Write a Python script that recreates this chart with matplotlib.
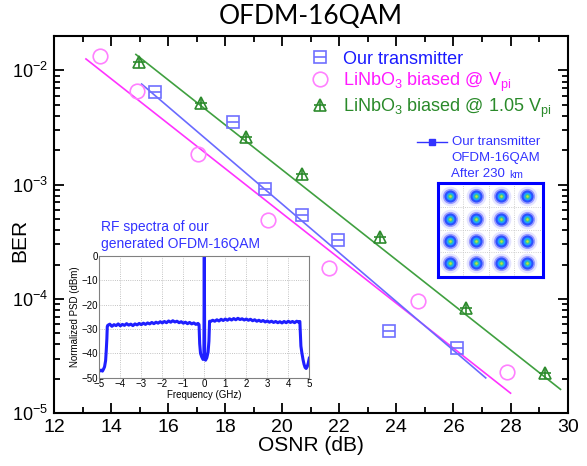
import numpy as np
import matplotlib
matplotlib.use("Agg")
import matplotlib.pyplot as plt
from matplotlib.lines import Line2D
from matplotlib.ticker import LogLocator, FixedLocator, NullFormatter

plt.rcParams['font.family'] = ['Liberation Sans', 'DejaVu Sans']
plt.rcParams['mathtext.fontset'] = 'custom'
plt.rcParams['mathtext.rm'] = 'Liberation Sans'
plt.rcParams['mathtext.it'] = 'Liberation Sans:italic'

# ---------------- data ----------------
title = "OFDM-16QAM"
labels = ["Our transmitter",
          r"LiNbO$_3$ biased @ V$_{\mathrm{pi}}$",
          r"LiNbO$_3$ biased @ 1.05 V$_{\mathrm{pi}}$"]

tx_osnr = [15.54, 18.27, 19.39, 20.68, 21.94, 23.73, 26.11]
tx_ber = [6.5e-3, 3.55e-3, 9.2e-4, 5.4e-4, 3.3e-4, 5.3e-5, 3.7e-5]
tx_fit_osnr = [15.07, 27.13]
tx_fit_ber = [7.6e-3, 2.04e-5]

vpi_osnr = [13.61, 14.90, 17.04, 19.49, 21.64, 24.76, 27.87]
vpi_ber = [1.35e-2, 6.6e-3, 1.85e-3, 4.9e-4, 1.86e-4, 9.7e-5, 2.3e-5]
vpi_fit_osnr = [13.12, 28.0]
vpi_fit_ber = [1.26e-2, 1.5e-5]

v105_osnr = [14.98, 17.15, 18.72, 20.68, 23.41, 26.45, 29.21]
v105_ber = [1.18e-2, 5.2e-3, 2.6e-3, 1.23e-3, 3.5e-4, 8.3e-5, 2.24e-5]
v105_fit_osnr = [14.87, 29.75]
v105_fit_ber = [1.38e-2, 1.62e-5]

x_ticks = [12, 14, 16, 18, 20, 22, 24, 26, 28, 30]
y_ticks = [1e-5, 1e-4, 1e-3, 1e-2]
y_tick_labels = [r"$10^{-5}$", r"$10^{-4}$", r"$10^{-3}$", r"$10^{-2}$"]

# RF spectrum (inset)
freq_ghz = [-5.0, -4.95, -4.9, -4.85, -4.8, -4.75, -4.7, -4.67, -4.64, -4.62,
            -4.6, -4.5, -4.4, -4.3, -4.2, -4.1, -4.0, -3.9, -3.8, -3.7, -3.6,
            -3.5, -3.4, -3.3, -3.2, -3.1, -3.0, -2.9, -2.8, -2.7, -2.6, -2.5,
            -2.4, -2.3, -2.2, -2.1, -2.0, -1.9, -1.8, -1.7, -1.6, -1.5, -1.4,
            -1.3, -1.2, -1.1, -1.0, -0.9, -0.8, -0.7, -0.6, -0.5, -0.4, -0.3,
            -0.25, -0.22, -0.18, -0.12, -0.06, -0.02, 0.0, 0.02, 0.06, 0.12,
            0.18, 0.22, 0.25, 0.3, 0.4, 0.5, 0.6, 0.7, 0.8, 0.9, 1.0, 1.1, 1.2,
            1.3, 1.4, 1.5, 1.6, 1.7, 1.8, 1.9, 2.0, 2.1, 2.2, 2.3, 2.4, 2.5,
            2.6, 2.7, 2.8, 2.9, 3.0, 3.1, 3.2, 3.3, 3.4, 3.5, 3.6, 3.7, 3.8,
            3.9, 4.0, 4.1, 4.2, 4.3, 4.4, 4.5, 4.55, 4.6, 4.65, 4.7, 4.75, 4.8,
            4.85, 4.9, 4.95, 5.0]
psd_dbm = [-46.8, -47.2, -46.9, -47.3, -46.5, -45.5, -43.0, -39.0, -34.0, -29.0,
           -28.5, -28.0, -28.9, -28.2, -28.6, -27.9, -28.7, -28.1, -28.5, -27.8, -28.4,
           -28.0, -28.6, -27.9, -28.3, -27.7, -28.2, -27.6, -28.1, -27.5, -27.9, -27.3,
           -27.8, -27.2, -27.6, -27.0, -27.5, -26.9, -27.4, -26.7, -27.2, -26.6, -27.1,
           -26.8, -27.4, -27.0, -27.6, -27.2, -27.8, -27.3, -27.9, -27.5, -28.1, -27.7,
           -28.2, -36.0, -40.0, -41.5, -42.5, -41.0, 0.0, -41.5, -42.8, -41.8,
           -39.5, -35.0, -26.8, -26.9, -26.4, -26.8, -26.2, -26.7, -26.0, -26.5, -25.9, -26.4, -25.8,
           -26.3, -25.7, -26.2, -25.6, -26.1, -25.8, -26.3, -25.9, -26.4, -26.0, -26.6, -26.2, -26.8,
           -26.4, -26.9, -26.5, -27.1, -26.7, -27.2, -26.8, -27.3, -26.9, -27.4, -27.0, -27.5, -26.9,
           -27.4, -26.8, -27.3, -26.9, -27.4, -26.8, -27.2, -26.9, -37.0, -40.0, -42.5, -44.5, -45.8,
           -46.2, -45.5, -44.0, -42.0]
inset_x_ticks = [-5, -4, -3, -2, -1, 0, 1, 2, 3, 4, 5]
inset_y_ticks = [0, -10, -20, -30, -40, -50]

# constellation (16QAM levels)
qam_levels = [-3, -1, 1, 3]

# ---------------- figure ----------------
fig = plt.figure(figsize=(5.87, 4.66), dpi=100)
ax = fig.add_axes([0.092, 0.1131, 0.875, 0.8096])

c_blue_m, c_blue_l = '#6f6fff', '#6a6aff'
c_pink_m, c_pink_l = '#ff80ff', '#ff33ff'
c_green_m, c_green_l = '#2e8b2e', '#40a040'

ax.plot(vpi_fit_osnr, vpi_fit_ber, color=c_pink_l, lw=1.2)
ax.plot(tx_fit_osnr, tx_fit_ber, color=c_blue_l, lw=1.2)
ax.plot(v105_fit_osnr, v105_fit_ber, color=c_green_l, lw=1.2)

ax.plot(tx_osnr, tx_ber, ls='none', marker='s', ms=9, mfc='none', mec=c_blue_m, mew=1.2)
ax.plot(tx_osnr, tx_ber, ls='none', marker='_', ms=9, mec=c_blue_m, mew=1.2)
ax.plot(vpi_osnr, vpi_ber, ls='none', marker='o', ms=10.5, mfc='none', mec=c_pink_m, mew=1.2)
ax.plot(v105_osnr, v105_ber, ls='none', marker='^', ms=8, mfc='none', mec=c_green_m, mew=1.2)
ax.plot(v105_osnr, v105_ber, ls='none', marker='+', ms=9, mec=c_green_m, mew=1.2)

ax.set_yscale('log')
ax.set_xlim(12, 30)
ax.set_ylim(1e-5, 2e-2)
ax.set_xticks(x_ticks)
ax.set_xticklabels([str(t) for t in x_ticks])
ax.xaxis.set_minor_locator(FixedLocator(np.arange(13, 30, 2)))
ax.set_yticks(y_ticks)
ax.set_yticklabels(y_tick_labels)
ax.yaxis.set_minor_locator(LogLocator(base=10, subs=np.arange(2, 10)))
ax.yaxis.set_minor_formatter(NullFormatter())
ax.tick_params(which='both', direction='in', top=True, right=True, width=1.3)
ax.tick_params(axis='x', labelsize=14, pad=4)
ax.tick_params(axis='y', labelsize=13, pad=4)
ax.tick_params(which='major', length=7)
ax.tick_params(which='minor', length=4)
for s in ax.spines.values():
    s.set_linewidth(1.5)
ax.set_xlabel("OSNR (dB)", fontsize=15, labelpad=0)
ax.set_ylabel("BER", fontsize=15, va='center')
ax.yaxis.set_label_coords(-0.066, 0.459)
fig.text(311 / 587, 1 - 17 / 466, title, fontsize=19, family=['Lato', 'DejaVu Sans'],
         ha='center', va='center')

# legend
h1 = (Line2D([], [], ls='none', marker='s', ms=9, mfc='none', mec=c_blue_m, mew=1.2),
      Line2D([], [], ls='none', marker='_', ms=9, mec=c_blue_m, mew=1.2))
h2 = Line2D([], [], ls='none', marker='o', ms=10.5, mfc='none', mec=c_pink_m, mew=1.2)
h3 = (Line2D([], [], ls='none', marker='^', ms=8, mfc='none', mec=c_green_m, mew=1.2),
      Line2D([], [], ls='none', marker='+', ms=9, mec=c_green_m, mew=1.2))
leg = ax.legend([h1, h2, h3], labels, loc='upper left', bbox_to_anchor=(0.482, 0.98),
                frameon=False, fontsize=13, handlelength=1.2, handletextpad=0.7,
                labelspacing=0.15, borderaxespad=0)
for t, c in zip(leg.get_texts(), ['#1a1aff', '#ff1aff', '#2a8a2a']):
    t.set_color(c)

# constellation annotation
fig.add_artist(Line2D([417 / 587, 447 / 587], [1 - 141.7 / 466, 1 - 141.7 / 466],
                      color='#3333ff', lw=1, transform=fig.transFigure))
fig.add_artist(Line2D([432 / 587], [1 - 141.7 / 466], color='#3333ff', marker='s', ms=5,
                      ls='none', transform=fig.transFigure))
fig.text(452 / 587, 1 - 141.7 / 466, "Our transmitter", color='#3333ff', fontsize=9.5,
         va='center', ha='left')
fig.text(496 / 587, 1 - 157.7 / 466, "OFDM-16QAM", color='#3333ff', fontsize=9.5,
         va='center', ha='center')
fig.text(451 / 587, 1 - 174 / 466, "After 230 ", color='#3333ff', fontsize=9.5,
         va='center', ha='left')
fig.text(509 / 587, 1 - 174.5 / 466, "km", color='#3333ff', fontsize=7.5,
         va='center', ha='left')

axc = fig.add_axes([438.3 / 587, 1 - 276.7 / 466, 104.4 / 587, 94 / 466])
gx, gy = np.meshgrid(qam_levels, qam_levels)
gx, gy = gx.ravel(), gy.ravel()
axc.scatter(gx, gy, s=200, color='#e4e4ff', lw=0)
axc.scatter(gx, gy, s=120, color='#9a9aff', lw=0)
axc.scatter(gx, gy, s=75, color='#2a50ff', lw=0)
axc.scatter(gx, gy, s=32, color='#1ea0ff', lw=0)
axc.scatter(gx, gy, s=11, color='#40d080', lw=0)
axc.scatter(gx, gy, s=3, color='#c8e040', lw=0)
axc.set_xlim(-3.9, 4.2)
axc.set_ylim(-4.2, 4.2)
axc.set_xticks([-2, 0, 2])
axc.set_yticks([-2, 0, 2])
axc.grid(True, color='#c0c0c0', ls=':', lw=0.6)
axc.tick_params(length=0, labelbottom=False, labelleft=False)
for s in axc.spines.values():
    s.set_color('#0000ff')
    s.set_linewidth(2.2)
axc.set_zorder(3)

# RF spectrum inset
axi = fig.add_axes([99.3 / 587, 1 - 377.7 / 466, 210 / 587, 121.7 / 466])
axi.plot(freq_ghz, psd_dbm, color='#1f1fff', lw=2.2)
axi.set_xlim(-5, 5)
axi.set_ylim(-50, 0)
axi.set_xticks(inset_x_ticks)
axi.set_yticks(inset_y_ticks)
axi.grid(True, color='#b0b0b0', ls=':', lw=0.6)
axi.tick_params(labelsize=7, length=0, pad=1)
for s in axi.spines.values():
    s.set_color('#808080')
    s.set_linewidth(0.8)
axi.set_xlabel("Frequency (GHz)", fontsize=7, labelpad=1)
axi.set_ylabel("Normalized PSD (dBm)", fontsize=7, labelpad=1)
fig.text(101 / 587, 1 - 226.7 / 466, "RF spectra of our", color='#3333ff', fontsize=10,
         va='center', ha='left')
fig.text(101 / 587, 1 - 244 / 466, "generated OFDM-16QAM", color='#3333ff', fontsize=10,
         va='center', ha='left')

fig.savefig("out.png", dpi=100)
